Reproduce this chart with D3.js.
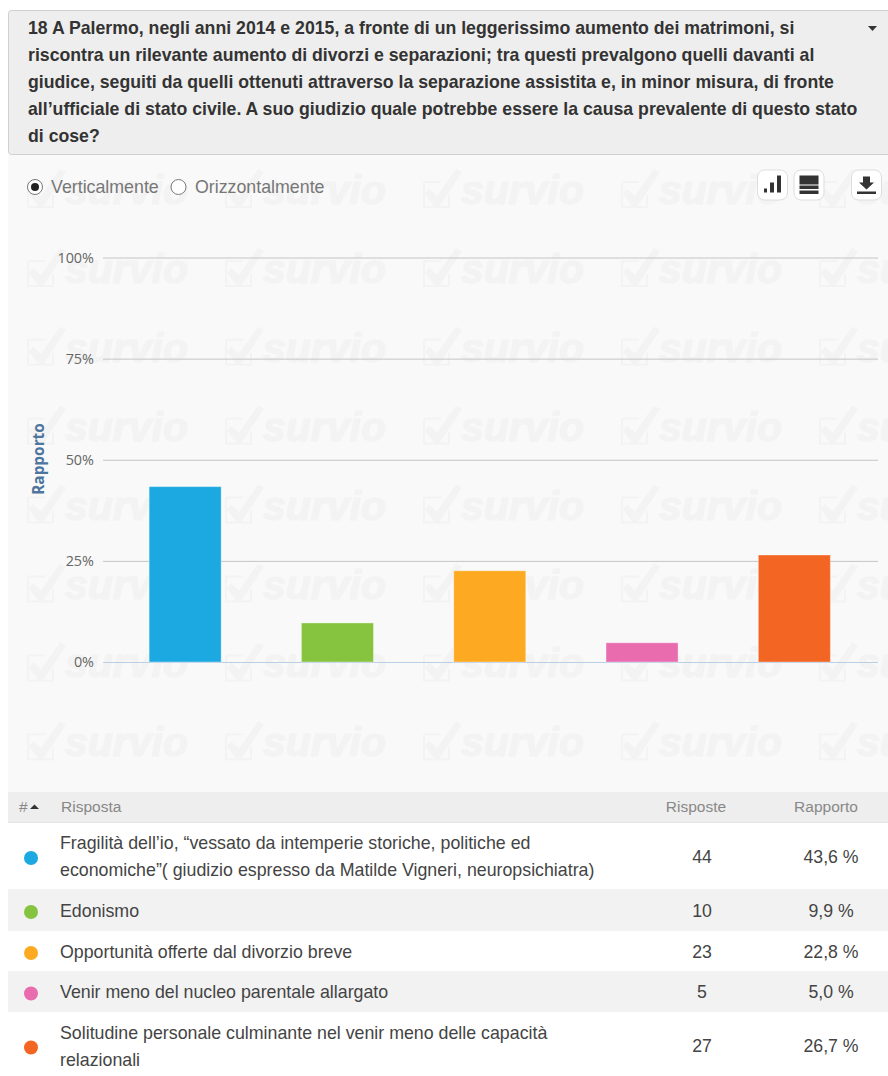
<!DOCTYPE html>
<html><head><meta charset="utf-8">
<script src="https://cdn.jsdelivr.net/npm/d3@7"></script>
<style>html,body{margin:0;padding:0;background:#fff;overflow:hidden}svg{display:block}text{font-family:"Liberation Sans",Arial,sans-serif}</style>
</head><body><div id="chart"></div>
<script>
const titleLines = [
 "18 A Palermo, negli anni 2014 e 2015, a fronte di un leggerissimo aumento dei matrimoni, si",
 "riscontra un rilevante aumento di divorzi e separazioni; tra questi prevalgono quelli davanti al",
 "giudice, seguiti da quelli ottenuti attraverso la separazione assistita e, in minor misura, di fronte",
 "all’ufficiale di stato civile. A suo giudizio quale potrebbe essere la causa prevalente di questo stato",
 "di cose?"];
const answers = [
 ["Fragilità dell’io, “vessato da intemperie storiche, politiche ed","economiche”( giudizio espresso da Matilde Vigneri, neuropsichiatra)"],
 ["Edonismo"],
 ["Opportunità offerte dal divorzio breve"],
 ["Venir meno del nucleo parentale allargato"],
 ["Solitudine personale culminante nel venir meno delle capacità","relazionali"]];
const counts = [44,10,23,5,27];
const shares = [43.6,9.9,22.8,5.0,26.7];
const shareLabels = ["43,6 %","9,9 %","22,8 %","5,0 %","26,7 %"];
const colors = ["#1ca8e0","#86c440","#fdaa22","#e96cae","#f26522"];
const yTicks = [0,25,50,75,100];
const rowTops = [823,889,931,971,1012,1079];

const svg = d3.select("#chart").append("svg").attr("width",888).attr("height",1076);

// panel
svg.append("rect").attr("x",8).attr("y",155).attr("width",880).attr("height",640).attr("fill","#f9f9f9");

// watermark
const wm = svg.append("g");
const wmX = d3.range(27,888,198), wmY = d3.range(169,760,78.9);
wmY.forEach(y=>wmX.forEach(x=>{
  const g = wm.append("g").attr("transform",`translate(${x},${y})`);
  g.append("path").attr("d","M1 13H18M1 13V38H26V26").attr("fill","none").attr("stroke","#f3f3f3").attr("stroke-width",2);
  g.append("path").attr("d","M6 20L14 27L33 0L39 3L16 38H12L2 25Z").attr("fill","#f3f3f3");
  g.append("text").attr("x",38).attr("y",35).attr("font-size",41).attr("font-weight",700).attr("font-style","italic")
   .attr("fill","#f3f3f3").attr("stroke","#f3f3f3").attr("stroke-width",1.2).text("survio");
}));

// header box
svg.append("rect").attr("x",8.5).attr("y",10.5).attr("width",890).attr("height",144).attr("rx",3).attr("fill","#eeeeee").attr("stroke","#cfcfcf");
svg.append("g").selectAll("text").data(titleLines).join("text")
 .attr("x",28).attr("y",(d,i)=>34+i*27).attr("font-size",17.7).attr("font-weight",700).attr("fill","#333").text(d=>d);
svg.append("path").attr("d",d3.line()([[868,26],[877,26],[872.5,31]])+"Z").attr("fill","#333");

// radios
const radio = svg.append("g");
[[35,"Verticalmente",51,true],[178.5,"Orizzontalmente",195,false]].forEach(([cx,t,tx,on])=>{
  radio.append("circle").attr("cx",cx).attr("cy",187).attr("r",7.5).attr("fill","#fff").attr("stroke","#777");
  if(on) radio.append("circle").attr("cx",cx).attr("cy",187).attr("r",4).attr("fill","#222");
  radio.append("text").attr("x",tx).attr("y",193).attr("font-size",17.8).attr("fill","#777").text(t);
});

// buttons
[[757,"bars"],[793.5,"list"],[851,"down"]].forEach(([x,k])=>{
  const g = svg.append("g").attr("transform",`translate(${x},169.5)`);
  g.append("rect").attr("x",.5).attr("y",.5).attr("width",30).attr("height",30).attr("rx",7).attr("fill","#fff").attr("stroke","#ddd");
  const c="#333";
  if(k==="bars"){ g.append("rect").attr("x",7).attr("y",19).attr("width",3).attr("height",4).attr("fill",c);
    g.append("rect").attr("x",13).attr("y",13).attr("width",4).attr("height",10).attr("fill",c);
    g.append("rect").attr("x",20).attr("y",6).attr("width",4).attr("height",17).attr("fill",c);}
  if(k==="list"){ [6,16,21].forEach((y,i)=>g.append("rect").attr("x",6).attr("y",y).attr("width",19).attr("height",i?3.5:9).attr("fill",c));}
  if(k==="down"){ g.append("path").attr("d","M12 7H19V13H23L15.500 20L8 13H12Z").attr("fill",c);
    g.append("rect").attr("x",6).attr("y",22).attr("width",19).attr("height",2.5).attr("fill",c);}
});

// chart
const y = d3.scaleLinear().domain([0,100]).range([662,257.5]);
const x = d3.scaleBand().domain(answers.map((d,i)=>i)).range([109,870.5]).paddingInner(0.527).paddingOuter(0.2635);
const axis = svg.append("g").attr("transform","translate(103,0)")
 .call(d3.axisLeft(y).tickValues(yTicks).tickFormat(d=>d+"%").tickSize(-775).tickPadding(9));
axis.select(".domain").remove();
axis.selectAll(".tick line").attr("stroke",d=>d===0?"#b9cfe4":"#c4c4c4");
axis.selectAll(".tick text").attr("font-size",14.4).attr("fill","#666").style("font-family","'Open Sans',sans-serif");

svg.append("text").attr("transform","translate(44,459) rotate(-90)").attr("text-anchor","middle")
 .attr("font-size",15.4).attr("font-weight",700).attr("fill","#4d759e").style("font-family","'Open Sans',sans-serif").text("Rapporto");

svg.append("g").selectAll("rect").data(shares).join("rect")
 .attr("x",(d,i)=>x(i)).attr("width",x.bandwidth())
 .attr("y",d=>y(d)+1).attr("height",d=>y(0)-y(d)-1)
 .attr("fill",(d,i)=>colors[i]).attr("stroke","#fff").attr("stroke-opacity",.35);

// table
svg.append("rect").attr("x",8).attr("y",792).attr("width",880).attr("height",31).attr("fill","#eeeeee");
svg.append("line").attr("x1",8).attr("x2",888).attr("y1",822.500).attr("y2",822.500).attr("stroke","#e4e4e4");
const hdr = svg.append("g").attr("font-size",15.5).attr("fill","#888");
hdr.append("text").attr("x",19).attr("y",811.5).text("#");
hdr.append("path").attr("d","M30 809H39L34.500 804.500Z").attr("fill","#333");
hdr.append("text").attr("x",61).attr("y",811.5).text("Risposta");
hdr.append("text").attr("x",696).attr("y",811.5).attr("text-anchor","middle").text("Risposte");
hdr.append("text").attr("x",826).attr("y",811.5).attr("text-anchor","middle").text("Rapporto");

const rows = svg.append("g").selectAll("g").data(answers).join("g");
rows.append("rect").attr("x",8).attr("width",880)
 .attr("y",(d,i)=>rowTops[i]).attr("height",(d,i)=>rowTops[i+1]-rowTops[i])
 .attr("fill",(d,i)=>i%2?"#f2f2f2":"#ffffff");
const mid = i=>(rowTops[i]+rowTops[i+1])/2;
rows.append("circle").attr("cx",31).attr("cy",(d,i)=>mid(i)+2).attr("r",7).attr("fill",(d,i)=>colors[i]);
rows.each(function(d,i){
  const g=d3.select(this), m=mid(i)+0.5, first=m-(d.length-1)*13.5+6;
  g.selectAll("text.a").data(d).join("text").attr("class","a").attr("x",60)
   .attr("y",(t,j)=>first+j*27).attr("font-size",17.8).attr("fill","#444").text(t=>t);
  g.append("text").attr("x",702).attr("y",m+6).attr("text-anchor","middle").attr("font-size",17.7).attr("fill","#444").text(counts[i]);
  g.append("text").attr("x",831).attr("y",m+6).attr("text-anchor","middle").attr("font-size",17.7).attr("fill","#444").text(shareLabels[i]);
});
</script></body></html>
